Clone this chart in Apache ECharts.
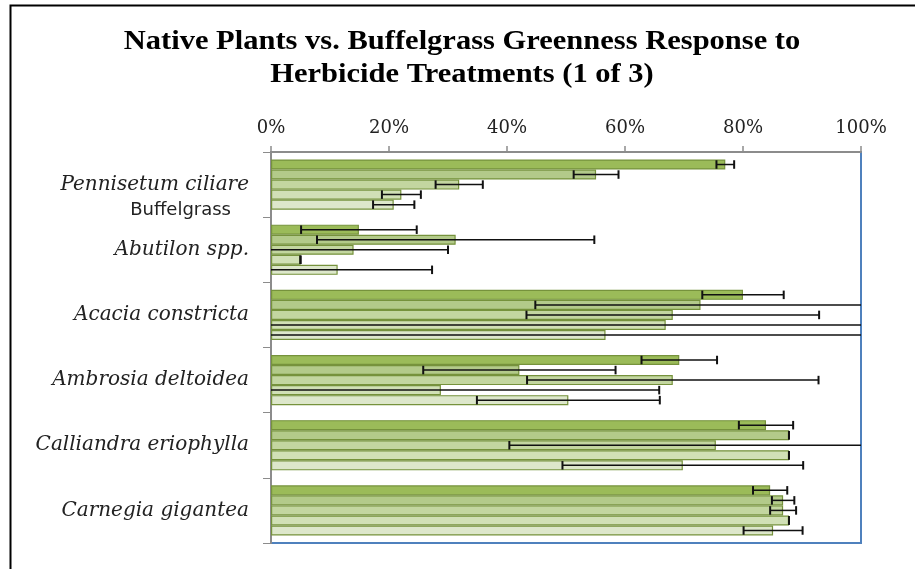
<!DOCTYPE html>
<html>
<head>
<meta charset="utf-8">
<script src="https://cdn.jsdelivr.net/npm/echarts@6/dist/echarts.min.js"></script>
<style>html,body{margin:0;padding:0;background:#fff}#c{width:915px;height:569px}</style>
</head>
<body>
<div id="c"></div>
<script>
var titleText = 'Native Plants vs. Buffelgrass Greenness Response to\nHerbicide Treatments (1 of 3)';
var categories = ['Pennisetum ciliare', 'Abutilon spp.', 'Acacia constricta', 'Ambrosia deltoidea', 'Calliandra eriophylla', 'Carnegia gigantea'];
var subLabel = 'Buffelgrass';
var xTicks = [0, 20, 40, 60, 80, 100];

var s1 = [77.0, 14.9, 80.0, 69.2, 83.9, 84.6];
var e1 = [1.5, 9.8, 6.9, 6.4, 4.6, 2.9];
var s2 = [55.1, 31.3, 72.8, 42.1, 87.8, 86.8];
var e2 = [3.8, 23.5, 28.0, 16.3, 0, 1.9];
var s3 = [31.9, 14.0, 68.1, 68.1, 75.4, 86.8];
var e3 = [4.0, 16.0, 24.8, 24.7, 35.0, 2.2];
var s4 = [22.1, 5.0, 66.9, 28.8, 87.8, 87.8];
var e4 = [3.3, 0, 70, 37.0, 0, 0];
var s5 = [20.8, 11.3, 56.7, 50.4, 69.8, 85.1];
var e5 = [3.5, 16.0, 60, 15.5, 20.4, 5.0];

var values = [s1, s2, s3, s4, s5];
var errors = [e1, e2, e3, e4, e5];
var colors = ['#9BBB59', '#B3CA8A', '#C3D6A0', '#D1E0B6', '#DDE7CB'];
var borderColor = '#76923C';
var nSeries = values.length;
var gapRatio = 0.23;

var chart = echarts.init(document.getElementById('c'));

var series = [];
values.forEach(function (vals, si) {
  series.push({
    type: 'bar',
    data: vals,
    barGap: '0%',
    barCategoryGap: (gapRatio * 100) + '%',
    itemStyle: { color: colors[si], borderColor: borderColor, borderWidth: 1.2 },
    silent: true
  });
});
values.forEach(function (vals, si) {
  var errData = vals.map(function (v, ci) { return [ci, v, errors[si][ci]]; });
  series.push({
    type: 'custom',
    silent: true,
    z: 10,
    data: errData,
    renderItem: function (params, api) {
      var ci = api.value(0), v = api.value(1), e = api.value(2);
      var band = api.size([0, 1])[1];
      var barH = band * (1 - gapRatio) / nSeries;
      var center = api.coord([0, ci])[1];
      var y = center - band * (1 - gapRatio) / 2 + (si + 0.5) * barH;
      var lo = v - e, hi = v + e;
      var loC = Math.max(lo, 0), hiC = Math.min(hi, 100);
      var x0 = api.coord([loC, ci])[0];
      var x1 = api.coord([hiC, ci])[0];
      var capH = barH * 0.85;
      var children = [{ type: 'line', shape: { x1: x0, y1: y, x2: x1, y2: y }, style: { stroke: '#111', lineWidth: 1.5 } }];
      if (lo >= 0) children.push({ type: 'line', shape: { x1: x0, y1: y - capH / 2, x2: x0, y2: y + capH / 2 }, style: { stroke: '#111', lineWidth: 2 } });
      if (hi <= 100) children.push({ type: 'line', shape: { x1: x1, y1: y - capH / 2, x2: x1, y2: y + capH / 2 }, style: { stroke: '#111', lineWidth: 2 } });
      return { type: 'group', children: children };
    }
  });
});

chart.setOption({
  animation: false,
  graphic: [{
    type: 'rect', left: 8, top: 3, silent: true,
    shape: { x: 0, y: 0, width: 1000, height: 1000 },
    style: { fill: 'none', stroke: '#000', lineWidth: 2 }
  }, {
    type: 'text', x: 462, y: 26, scaleX: 1.13, silent: true,
    style: {
      text: titleText, fontFamily: 'Liberation Serif', fontWeight: 'bold', fontSize: 27,
      lineHeight: 33, align: 'center', verticalAlign: 'top', textAlign: 'center', textVerticalAlign: 'top', fill: '#000'
    }
  }],
  grid: { left: 271, right: 54, top: 152, bottom: 26, show: true, borderColor: '#4F81BD', borderWidth: 2, backgroundColor: 'transparent' },
  xAxis: {
    type: 'value', position: 'top', min: xTicks[0], max: xTicks[xTicks.length - 1], interval: 20,
    axisLine: { show: true, lineStyle: { color: '#8C8C8C', width: 2 } },
    axisTick: { show: true, length: 6, lineStyle: { color: '#8C8C8C', width: 1.5 } },
    splitLine: { show: false },
    axisLabel: { formatter: '{value}%', margin: 15, fontFamily: 'DejaVu Serif', fontSize: 18, color: '#222' }
  },
  yAxis: {
    type: 'category', inverse: true, data: categories,
    axisLine: { show: true, lineStyle: { color: '#8C8C8C', width: 2 } },
    axisTick: { show: true, length: 8, lineStyle: { color: '#8C8C8C', width: 1 } },
    axisLabel: {
      margin: 22,
      formatter: function (val, idx) {
        if (idx === 0) return '{s| }\n{i|' + val + '}\n{b|' + subLabel + '}';
        return '{i|' + val + '}';
      },
      rich: {
        s: { fontSize: 10, lineHeight: 24 },
        i: { fontFamily: 'DejaVu Serif', fontStyle: 'italic', fontSize: 20, lineHeight: 28, color: '#222' },
        b: { fontFamily: 'DejaVu Sans', fontSize: 18, lineHeight: 24, color: '#222', padding: [0, 18, 0, 0] }
      }
    }
  },
  series: series
});
</script>
</body>
</html>
